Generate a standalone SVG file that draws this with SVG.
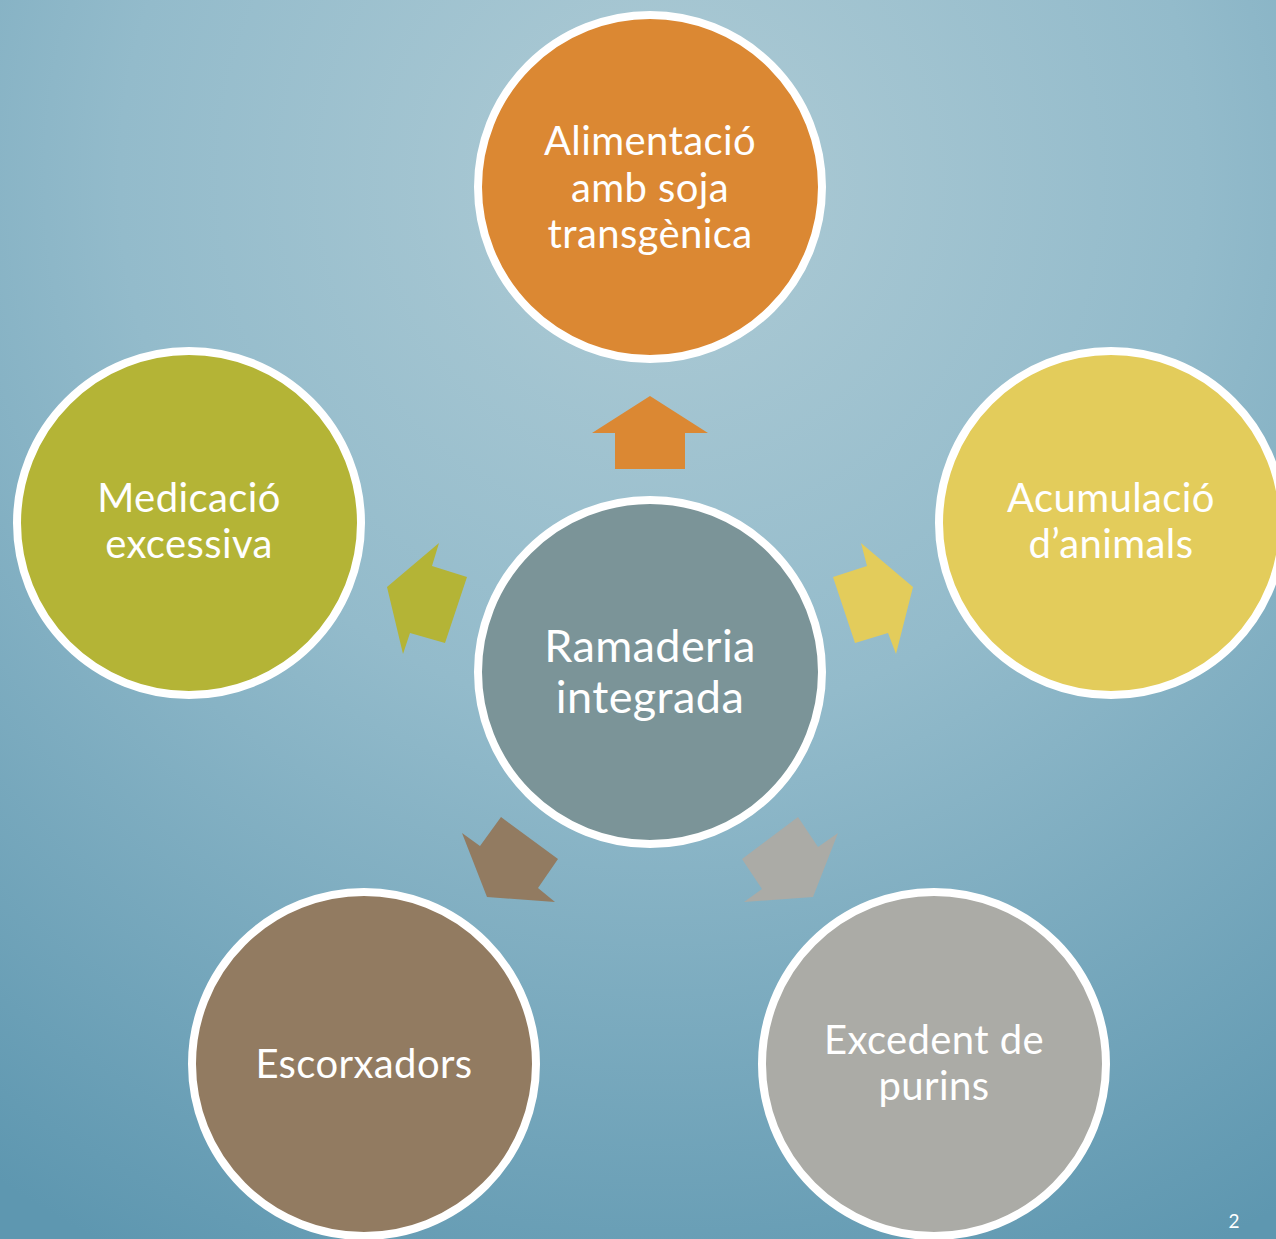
<svg xmlns="http://www.w3.org/2000/svg" width="1276" height="1239" viewBox="0 0 1276 1239">
<defs>
<radialGradient id="bg" cx="660" cy="180" r="1200" gradientUnits="userSpaceOnUse">
<stop offset="0" stop-color="#AECBD5"/>
<stop offset="0.45" stop-color="#93BBCB"/>
<stop offset="1" stop-color="#5E97B0"/>
</radialGradient>
</defs>
<style>
.c{stroke:#FFFFFF;stroke-width:8}
.t{font-family:Lato,"Open Sans",sans-serif;fill:#FFFFFF;text-anchor:middle;font-size:40px;letter-spacing:0.4px}
.tc{font-size:45px}
</style>
<rect width="1276" height="1239" fill="url(#bg)"/>
<g id="connectors">
<polygon points="650,396 708,433 685,433 685,469 615,469 615,433 592,433" fill="#DB8833"/>
<polygon points="913,587 861,543 867,566 833,577 855,643 888,633 896,654" fill="#E3CC5B"/>
<polygon points="742,859 798,817 818,847 838,833 813,897 744,902 762,889" fill="#ABABA6"/>
<polygon points="462,833 480,846 501,817 558,859 538,888 555,902 487,897" fill="#927B61"/>
<polygon points="387,587 439,543 432,566 467,577 445,643 410,633 403,654" fill="#B4B436"/>
</g>
<g id="center">
<circle class="c" cx="650" cy="672" r="172" fill="#7B9498"/>
<text class="t tc" x="650" y="662">Ramaderia</text>
<text class="t tc" x="650" y="713">integrada</text>
</g>
<g id="alimentacio">
<circle class="c" cx="650" cy="187" r="172" fill="#DB8833"/>
<text class="t" x="650" y="155">Alimentació</text>
<text class="t" x="650" y="202">amb soja</text>
<text class="t" x="650" y="248">transgènica</text>
</g>
<g id="acumulacio">
<circle class="c" cx="1111" cy="523" r="172" fill="#E3CC5B"/>
<text class="t" x="1111" y="512">Acumulació</text>
<text class="t" x="1111" y="558">d’animals</text>
</g>
<g id="excedent">
<circle class="c" cx="934" cy="1064" r="172" fill="#ABABA6"/>
<text class="t" x="934" y="1054">Excedent de</text>
<text class="t" x="934" y="1100">purins</text>
</g>
<g id="escorxadors">
<circle class="c" cx="364" cy="1064" r="172" fill="#927B61"/>
<text class="t" x="364" y="1078">Escorxadors</text>
</g>
<g id="medicacio">
<circle class="c" cx="189" cy="523" r="172" fill="#B4B436"/>
<text class="t" x="189" y="512">Medicació</text>
<text class="t" x="189" y="558">excessiva</text>
</g>
<text x="1234" y="1228" font-family="Lato,'Open Sans',sans-serif" font-size="19" fill="#FFFFFF" text-anchor="middle">2</text>
</svg>
